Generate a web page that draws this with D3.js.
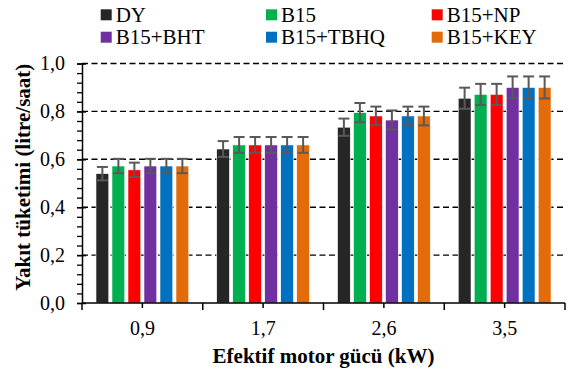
<!DOCTYPE html>
<html>
<head>
<meta charset="utf-8">
<script src="https://cdn.jsdelivr.net/npm/d3@7"></script>
<style>
  body { margin: 0; background: #fff; }
  svg text { font-family: "Liberation Serif", "Times New Roman", Times, "DejaVu Serif", serif !important; }
</style>
</head>
<body>
<svg id="chart" width="568" height="374"></svg>
<script>
// data
const categories = ["0,9", "1,7", "2,6", "3,5"]
const series = ["DY", "B15", "B15+NP", "B15+BHT", "B15+TBHQ", "B15+KEY"]
const colors = ["#262626", "#00b050", "#ff0000", "#7030a0", "#0070c0", "#e36c09"]

// values per series, one per category
const dyVals   = [0.54, 0.643, 0.734, 0.855]
const b15Vals  = [0.572, 0.66, 0.795, 0.871]
const npVals   = [0.556, 0.66, 0.781, 0.871]
const bhtVals  = [0.572, 0.66, 0.764, 0.90]
const tbhqVals = [0.572, 0.66, 0.781, 0.90]
const keyVals  = [0.572, 0.66, 0.781, 0.90]

// error bar half widths
const dyErr   = [0.028, 0.033, 0.036, 0.044]
const b15Err  = [0.03, 0.033, 0.04, 0.044]
const npErr   = [0.03, 0.033, 0.039, 0.044]
const bhtErr  = [0.03, 0.033, 0.04, 0.046]
const tbhqErr = [0.03, 0.033, 0.039, 0.046]
const keyErr  = [0.03, 0.033, 0.039, 0.046]

const yTicks = [0, 0.2, 0.4, 0.6, 0.8, 1.0]

const allVals = [dyVals, b15Vals, npVals, bhtVals, tbhqVals, keyVals]
const allErr = [dyErr, b15Err, npErr, bhtErr, tbhqErr, keyErr]

const svg = d3.select("#chart")
const plotL = 82, plotR = 565, plotT = 63.5, plotB = 303

const x0 = d3.scaleBand().domain(categories).range([plotL, plotR]).padding(0)
const x1 = d3.scaleBand().domain(series).range([-46.4, 46.4]).paddingInner(0.2)
const y = d3.scaleLinear().domain([0, 1]).range([plotB, plotT])

const fmt = d => d3.format(".1f")(d).replace(".", ",")

// dashed gridlines
svg.append("g")
    .selectAll("line")
    .data(yTicks.filter(d => d > 0))
    .enter()
    .append("line")
    .attr("x1", plotL)
    .attr("x2", plotR)
    .attr("y1", d => y(d))
    .attr("y2", d => y(d))
    .attr("stroke", "#000")
    .attr("stroke-width", 1.4)
    .attr("stroke-dasharray", "6,3.5")

// bars
const rows = []
categories.forEach((c, ci) => {
    series.forEach((s, si) => {
        rows.push({ cat: c, s: s, si: si, v: allVals[si][ci], e: allErr[si][ci] })
    })
})

svg.append("g")
    .selectAll("rect")
    .data(rows)
    .enter()
    .append("rect")
    .attr("x", d => x0(d.cat) + x0.bandwidth() / 2 + x1(d.s))
    .attr("y", d => y(d.v))
    .attr("width", x1.bandwidth())
    .attr("height", d => plotB - y(d.v))
    .attr("fill", d => colors[d.si])
    .attr("stroke", "#fff")
    .attr("stroke-width", 0.6)

// error bars
const eb = svg.append("g")
    .attr("stroke", "#595959")
    .attr("stroke-width", 2)
    .selectAll("g")
    .data(rows)
    .enter()
    .append("g")
    .attr("transform", d => `translate(${x0(d.cat) + x0.bandwidth() / 2 + x1(d.s) + x1.bandwidth() / 2},0)`)

eb.append("line")
    .attr("y1", d => y(d.v + d.e))
    .attr("y2", d => y(d.v - d.e))
eb.append("line")
    .attr("x1", -5.5).attr("x2", 5.5)
    .attr("y1", d => y(d.v + d.e))
    .attr("y2", d => y(d.v + d.e))
eb.append("line")
    .attr("x1", -5.5).attr("x2", 5.5)
    .attr("y1", d => y(d.v - d.e))
    .attr("y2", d => y(d.v - d.e))

// y axis, minor ticks first
const minor = d3.range(0, 1.0001, 0.04)
svg.append("g")
    .attr("transform", `translate(${plotL},0)`)
    .call(d3.axisLeft(y).tickValues(minor).tickSize(5).tickFormat(""))
    .call(g => g.select(".domain").remove())
    .selectAll("line").attr("stroke", "#000").attr("stroke-width", 1.3)

const yAxis = svg.append("g")
    .attr("transform", `translate(${plotL},0)`)
    .call(d3.axisLeft(y).tickValues(yTicks).tickSize(5).tickSizeOuter(0).tickPadding(12).tickFormat(fmt))
yAxis.attr("font-family", null)
yAxis.select(".domain").attr("stroke", "#000").attr("stroke-width", 1.5)
yAxis.selectAll(".tick line").attr("x1", 4).attr("stroke", "#000").attr("stroke-width", 1.5)
yAxis.selectAll("text")
    .attr("font-size", 20)
    .attr("fill", "#000")

// x axis: boundary ticks and centre ticks
const xg = svg.append("g").attr("transform", `translate(0,${plotB})`)
xg.append("line")
    .attr("x1", plotL).attr("x2", plotR)
    .attr("stroke", "#000").attr("stroke-width", 1.5)
const bounds = categories.map(c => x0(c)).concat([plotR])
xg.selectAll(".bt")
    .data(bounds)
    .enter()
    .append("line")
    .attr("x1", d => d).attr("x2", d => d)
    .attr("y1", 0).attr("y2", 7)
    .attr("stroke", "#000").attr("stroke-width", 1.5)
xg.selectAll(".ct")
    .data(categories)
    .enter()
    .append("line")
    .attr("x1", d => x0(d) + x0.bandwidth() / 2)
    .attr("x2", d => x0(d) + x0.bandwidth() / 2)
    .attr("y1", 0).attr("y2", 5)
    .attr("stroke", "#000").attr("stroke-width", 1.5)
xg.selectAll("text")
    .data(categories)
    .enter()
    .append("text")
    .attr("x", d => x0(d) + x0.bandwidth() / 2)
    .attr("y", 32)
    .attr("text-anchor", "middle")
    .attr("font-size", 20)
    .text(d => d)

// axis titles
svg.append("text")
    .attr("x", (plotL + plotR) / 2)
    .attr("y", 363)
    .attr("text-anchor", "middle")
    .attr("font-size", 21)
    .attr("font-weight", "bold")
    .text("Efektif motor gücü (kW)")

svg.append("text")
    .attr("transform", `translate(30,${(plotT + plotB) / 2 - 6}) rotate(-90)`)
    .attr("text-anchor", "middle")
    .attr("font-size", 21)
    .attr("font-weight", "bold")
    .text("Yakıt tüketimi (litre/saat)")

// legend
const legX = [100.7, 266, 431.7]
const leg = svg.append("g")
    .selectAll("g")
    .data(series)
    .enter()
    .append("g")
    .attr("transform", (d, i) => `translate(${legX[i % 3]},${i < 3 ? 9.3 : 31.7})`)
leg.append("rect")
    .attr("width", 11).attr("height", 11)
    .attr("fill", (d, i) => colors[i])
leg.append("text")
    .attr("x", 15)
    .attr("y", 12.4)
    .attr("font-size", 21)
    .text(d => d)
</script>
</body>
</html>
